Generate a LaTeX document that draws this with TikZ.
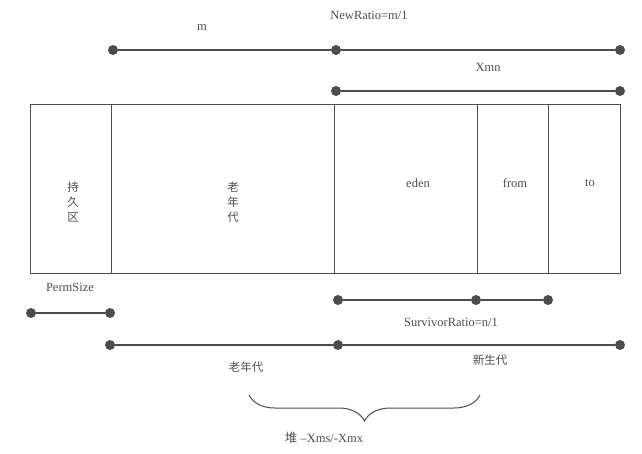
\documentclass[tikz,border=0pt]{standalone}
\usepackage{fontspec}
\setmainfont{Liberation Serif}
\newfontfamily\cjk{Noto Sans CJK SC}
\usetikzlibrary{decorations.pathreplacing}

\tikzset{
  dot/.style={circle,fill=black!70,inner sep=0pt,minimum size=10pt},
  lbl/.style={text=black!70,font=\fontsize{12.5}{14}\selectfont},
  vlbl/.style={lbl,align=center,font=\cjk\fontsize{11.5}{15}\selectfont},
  span/.style={black!70,line width=1.2pt},
}

\begin{document}
\begin{tikzpicture}[x=1pt,y=-1pt]
  \useasboundingbox (0,0) rectangle (642,453);

  % heap regions
  \draw[black!70,line width=0.9pt] (30,104) rectangle (620,273);
  \foreach \x in {111,334,477,548}
    \draw[black!70,line width=0.9pt] (\x,104) -- (\x,273);

  \node[vlbl] (perm) at (73,202) {持\\久\\区};
  \node[vlbl] (old) at (233,202) {老\\年\\代};
  \node[lbl] (eden) at (418,183) {eden};
  \node[lbl] (from) at (515,183) {from};
  \node[lbl] (to) at (590,183) {to};

  % top spans
  \node[dot] (m1) at (113,50) {};
  \node[dot] (m2) at (336,50) {};
  \node[dot] (m3) at (620,50) {};
  \node[dot] (x1) at (336,91) {};
  \node[dot] (x2) at (620,91) {};
  \node[lbl] (m) at (202,28) {m};
  \node[lbl] (newratio) at (369,15) {NewRatio=m/1};
  \node[lbl] (xmn) at (488,67) {Xmn};

  % bottom spans
  \node[dot] (p1) at (31,313) {};
  \node[dot] (p2) at (110,313) {};
  \node[dot] (s1) at (338,300) {};
  \node[dot] (s2) at (476,300) {};
  \node[dot] (s3) at (548,300) {};
  \node[dot] (h1) at (110,345) {};
  \node[dot] (h2) at (338,345) {};
  \node[dot] (h3) at (620,345) {};
  \node[lbl] (permsize) at (70,287) {PermSize};
  \node[lbl] (survivor) at (451,322) {SurvivorRatio=n/1};
  \node[lbl,font=\cjk\fontsize{11.5}{13}\selectfont] (oldgen) at (246,367) {老年代};
  \node[lbl,font=\cjk\fontsize{11.5}{13}\selectfont] (newgen) at (490,360) {新生代};

  \foreach \a/\b in {m1/m2,m2/m3,x1/x2,p1/p2,s1/s2,s2/s3,h1/h2,h2/h3}
    \draw[span] (\a) -- (\b);

  % heap brace
  \coordinate (b1) at (249,395);
  \coordinate (b2) at (480,395);
  \draw[black!70,line width=1pt,decorate,decoration={brace,mirror,amplitude=26pt}] (b1) -- (b2);
  \node[lbl] (heap) at (324,438) {{\cjk 堆} --Xms/-Xmx};
\end{tikzpicture}
\end{document}
